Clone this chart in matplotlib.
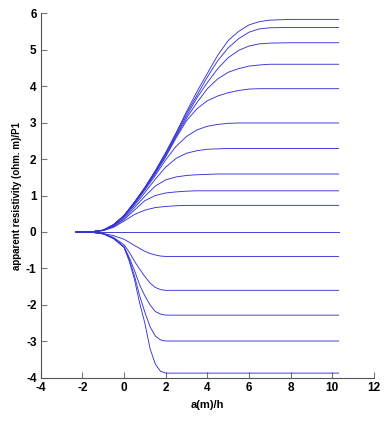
import matplotlib
matplotlib.use("Agg")
import matplotlib.pyplot as plt
from matplotlib import font_manager

plt.rcParams["axes.unicode_minus"] = False

# ── Curve data (x = a/h, y = apparent resistivity / P1) ──
x_up = [-2.3, -1.5, -1.0, -0.5, 0.0, 0.5, 1.0, 1.5, 2.0, 2.5, 3.0, 3.5, 4.0,
        4.5, 5.0, 5.5, 6.0, 6.5, 7.0, 8.0, 10.3]

up_583 = [0, 0.01, 0.05, 0.2, 0.45, 0.82, 1.22, 1.68, 2.18, 2.72, 3.3, 3.85,
          4.35, 4.85, 5.25, 5.5, 5.68, 5.77, 5.81, 5.83, 5.83]
up_561 = [0, 0.01, 0.05, 0.2, 0.45, 0.82, 1.22, 1.67, 2.16, 2.7, 3.25, 3.75,
          4.25, 4.7, 5.05, 5.3, 5.48, 5.57, 5.6, 5.61, 5.61]
up_519 = [0, 0.01, 0.05, 0.2, 0.45, 0.81, 1.21, 1.65, 2.13, 2.66, 3.18, 3.68,
          4.1, 4.48, 4.78, 4.98, 5.1, 5.16, 5.18, 5.19, 5.19]
up_460 = [0, 0.01, 0.05, 0.2, 0.45, 0.8, 1.2, 1.63, 2.1, 2.62, 3.12, 3.55,
          3.93, 4.2, 4.38, 4.48, 4.55, 4.58, 4.6, 4.6, 4.6]
up_393 = [0, 0.01, 0.05, 0.2, 0.44, 0.79, 1.18, 1.6, 2.06, 2.58, 3.05, 3.38,
          3.6, 3.73, 3.82, 3.88, 3.92, 3.93, 3.93, 3.93, 3.93]
up_299 = [0, 0.01, 0.05, 0.19, 0.43, 0.77, 1.15, 1.55, 1.98, 2.35, 2.62, 2.8,
          2.9, 2.95, 2.98, 2.99, 2.99, 2.99, 2.99, 2.99, 2.99]
up_229 = [0, 0.01, 0.05, 0.18, 0.41, 0.73, 1.08, 1.45, 1.78, 2.02, 2.16, 2.23,
          2.27, 2.28, 2.29, 2.29, 2.29, 2.29, 2.29, 2.29, 2.29]
up_159 = [0, 0.01, 0.04, 0.16, 0.37, 0.67, 0.98, 1.26, 1.43, 1.51, 1.55, 1.57,
          1.58, 1.59, 1.59, 1.59, 1.59, 1.59, 1.59, 1.59, 1.59]
up_113 = [0, 0.01, 0.04, 0.15, 0.34, 0.6, 0.86, 1.0, 1.07, 1.1, 1.12, 1.13,
          1.13, 1.13, 1.13, 1.13, 1.13, 1.13, 1.13, 1.13, 1.13]
up_073 = [0, 0.01, 0.04, 0.13, 0.3, 0.48, 0.6, 0.67, 0.7, 0.72, 0.73, 0.73,
          0.73, 0.73, 0.73, 0.73, 0.73, 0.73, 0.73, 0.73, 0.73]
flat_0 = [0] * len(x_up)

x_dn = [-2.3, -1.5, -1.0, -0.5, 0.0, 0.25, 0.5, 0.75, 1.0, 1.25, 1.5, 1.75,
        2.0, 2.5, 10.3]
dn_067 = [0, -0.01, -0.04, -0.1, -0.2, -0.28, -0.37, -0.45, -0.53, -0.59,
          -0.63, -0.66, -0.67, -0.67, -0.67]
dn_160 = [0, -0.01, -0.05, -0.15, -0.35, -0.55, -0.8, -1.02, -1.22, -1.4,
          -1.52, -1.58, -1.6, -1.6, -1.6]
dn_228 = [0, -0.01, -0.05, -0.17, -0.4, -0.7, -1.05, -1.45, -1.75, -2.0,
          -2.18, -2.25, -2.28, -2.28, -2.28]
dn_299 = [0, -0.01, -0.05, -0.18, -0.42, -0.75, -1.2, -1.75, -2.2, -2.6,
          -2.85, -2.96, -2.99, -2.99, -2.99]
dn_387 = [0, -0.01, -0.05, -0.18, -0.42, -0.8, -1.3, -1.95, -2.5, -3.2,
          -3.62, -3.82, -3.87, -3.87, -3.87]

upper = [up_583, up_561, up_519, up_460, up_393, up_299, up_229, up_159,
         up_113, up_073, flat_0]
lower = [dn_067, dn_160, dn_228, dn_299, dn_387]

xticks = [-4, -2, 0, 2, 4, 6, 8, 10, 12]
yticks = [-4, -3, -2, -1, 0, 1, 2, 3, 4, 5, 6]

names = {f.name for f in font_manager.fontManager.ttflist}
FONT = ["Liberation Sans Narrow", "DejaVu Sans"] if "Liberation Sans Narrow" in names \
    else ["Liberation Sans", "DejaVu Sans"]

fig = plt.figure(figsize=(3.84, 4.26), dpi=100)
ax = fig.add_axes([0.106, 0.113, 0.868, 0.856])

LINE = "#3434d4"
for ys in upper:
    ax.plot(x_up, ys, color=LINE, lw=0.65)
for ys in lower:
    ax.plot(x_dn, ys, color=LINE, lw=0.65)

ax.set_xlim(-4, 12)
ax.set_ylim(-4, 6)
ax.set_xticks(xticks)
ax.set_yticks(yticks)
ax.spines["top"].set_visible(False)
ax.spines["right"].set_visible(False)
for s in ("left", "bottom"):
    ax.spines[s].set_color("#555555")
    ax.spines[s].set_linewidth(0.8)
ax.tick_params(direction="in", length=4, color="#777777", width=0.8, pad=3)
for lab in ax.get_xticklabels() + ax.get_yticklabels():
    lab.set_fontfamily(FONT)
    lab.set_fontweight("bold")
    lab.set_fontsize(8.5)

ax.set_xlabel("a(m)/h", family=FONT, fontweight="bold", fontsize=8, labelpad=4)
ax.set_ylabel("apparent resistivity (ohm. m)/P1", family=FONT,
              fontweight="bold", fontsize=7, labelpad=3)

fig.savefig("out.png", dpi=100)
